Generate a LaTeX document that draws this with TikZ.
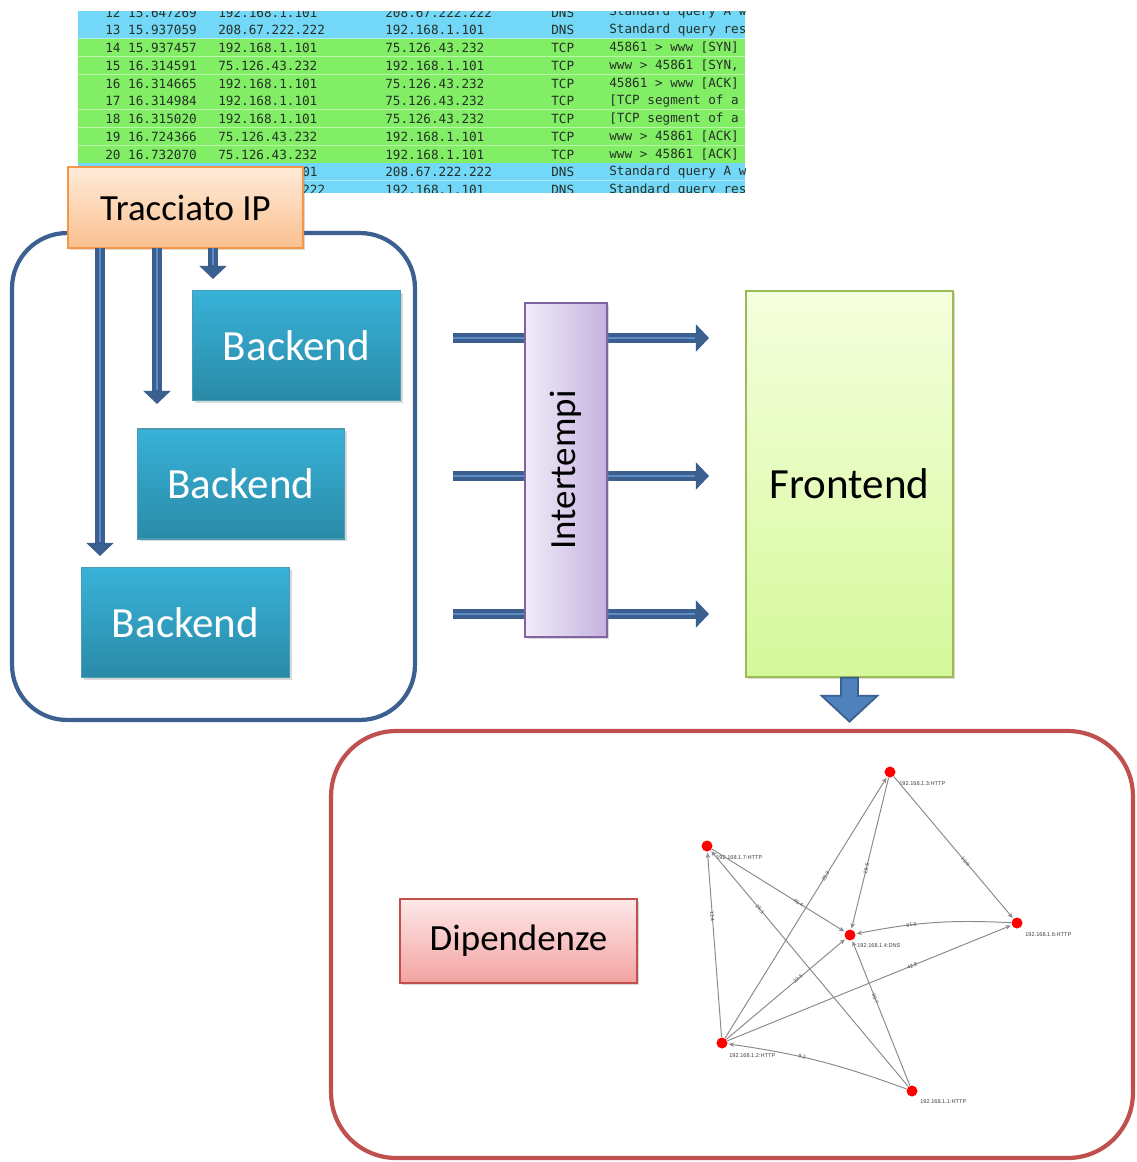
\documentclass[tikz,border=0pt]{standalone}
\usepackage{fontspec}
\setmainfont{Carlito}
\newfontfamily\monofont{DejaVu Sans Mono}
\newfontfamily\graphfont{Liberation Sans}
\usetikzlibrary{arrows.meta,shadows}

\definecolor{dnsblue}{HTML}{73D7F7}
\definecolor{tcpgreen}{HTML}{82EE66}
\definecolor{rowtext}{HTML}{263026}
\definecolor{arrdark}{HTML}{3B5F8F}
\definecolor{arrlight}{HTML}{5F8CC4}
\definecolor{arrfill}{HTML}{4F81BD}
\definecolor{frameblue}{HTML}{3C6190}
\definecolor{framered}{HTML}{C0504D}
\definecolor{betop}{HTML}{38B2D8}
\definecolor{bebot}{HTML}{2A8AA7}
\definecolor{trtop}{HTML}{FFEBD9}
\definecolor{trbot}{HTML}{FAC08F}
\definecolor{tredge}{HTML}{F79646}
\definecolor{inleft}{HTML}{F0ECF8}
\definecolor{inright}{HTML}{C6B2DF}
\definecolor{inedge}{HTML}{8064A2}
\definecolor{frtop}{HTML}{F6FFDE}
\definecolor{frbot}{HTML}{D5F89A}
\definecolor{fredge}{HTML}{9BBB59}
\definecolor{detop}{HTML}{FDE8E8}
\definecolor{debot}{HTML}{F2A3A1}
\definecolor{gedgecol}{HTML}{8A8A8A}

\begin{document}
\begin{tikzpicture}[x=0.02cm,y=-0.02cm,
  rowtxt/.style={anchor=west, inner sep=0pt, text=rowtext, font=\monofont\fontsize{7.2}{8}\selectfont},
  box/.style={inner sep=0pt, line width=0.8pt,
    drop shadow={shadow xshift=1.3pt, shadow yshift=-1.3pt, opacity=.3}},
  backend/.style={box, draw=bebot!85!white, top color=betop, bottom color=bebot,
    minimum width=4.15cm, minimum height=2.2cm, text=white,
    font=\fontsize{24.5}{28}\selectfont},
  tracebox/.style={box, draw=tredge, top color=trtop, bottom color=trbot,
    minimum width=4.7cm, minimum height=1.62cm, font=\fontsize{21}{24}\selectfont},
  interbox/.style={box, draw=inedge, left color=inleft, right color=inright,
    minimum width=1.64cm, minimum height=6.68cm, font=\fontsize{21}{24}\selectfont},
  frontbox/.style={box, draw=fredge, top color=frtop, bottom color=frbot,
    minimum width=4.14cm, minimum height=7.72cm, font=\fontsize{24.5}{28}\selectfont},
  depbox/.style={box, draw=framered, top color=detop, bottom color=debot,
    minimum width=4.74cm, minimum height=1.68cm, font=\fontsize{21}{24}\selectfont},
  frame/.style={draw, line width=2.4pt, inner sep=0pt},
  barrow/.style={draw=arrdark, line width=5.7pt, -{Triangle[width=15.3pt,length=7.5pt]}},
  bstripe/.style={draw=arrlight, line width=1.6pt},
  bigarrow/.style={fill=arrfill, draw=arrdark, line width=1pt, line join=miter},
  gnode/.style={circle, fill=red, inner sep=0pt, minimum size=0.22cm},
  glabel/.style={anchor=west, inner sep=0pt, text=black!75, font=\graphfont\fontsize{3.2}{4}\selectfont},
  gedge/.style={draw=gedgecol, line width=0.55pt, -{Stealth[length=3pt,width=2.6pt]}, shorten >=0.5pt},
  elab/.style={sloped, inner sep=0.6pt, text=black!70, font=\graphfont\fontsize{3}{3.5}\selectfont}
]
\useasboundingbox (0,0) rectangle (1136,1162);

% ---------- packet capture listing ----------
\begin{scope}
  \clip (78,12) rectangle (745,193);
  \foreach \rn/\rs/\rd/\rp/\ri/\rc [count=\k from 0] in {
    {12 15.647269}/192.168.1.101/208.67.222.222/DNS/{Standard query A www}/dnsblue,
    {13 15.937059}/208.67.222.222/192.168.1.101/DNS/{Standard query response}/dnsblue,
    {14 15.937457}/192.168.1.101/75.126.43.232/TCP/{45861 > www [SYN]}/tcpgreen,
    {15 16.314591}/75.126.43.232/192.168.1.101/TCP/{www > 45861 [SYN, ACK]}/tcpgreen,
    {16 16.314665}/192.168.1.101/75.126.43.232/TCP/{45861 > www [ACK]}/tcpgreen,
    {17 16.314984}/192.168.1.101/75.126.43.232/TCP/{[TCP segment of a reassembled PDU]}/tcpgreen,
    {18 16.315020}/192.168.1.101/75.126.43.232/TCP/{[TCP segment of a reassembled PDU]}/tcpgreen,
    {19 16.724366}/75.126.43.232/192.168.1.101/TCP/{www > 45861 [ACK]}/tcpgreen,
    {20 16.732070}/75.126.43.232/192.168.1.101/TCP/{www > 45861 [ACK]}/tcpgreen,
    {}/{}/208.67.222.222/DNS/{Standard query A www}/dnsblue,
    {}/{}/192.168.1.101/DNS/{Standard query response}/dnsblue}
  {
    \pgfmathsetmacro\yc{12.5+\k*17.75}
    \fill[\rc] (78,\yc-8.9) rectangle (745,\yc+8.9);
    \draw[white, opacity=.45, line width=0.8pt] (78,\yc+8.9) -- (745,\yc+8.9);
    \ifnum\k<9
      \node[rowtxt] (row\k-no) at (105,\yc) {\rn};
      \node[rowtxt] (row\k-src) at (218,\yc) {\rs};
    \fi
    \node[rowtxt] (row\k-dst) at (385,\yc) {\rd};
    \node[rowtxt] (row\k-pr) at (551,\yc) {\rp};
    \node[rowtxt] (row\k-inf) at (609,\yc) {\ri};
  }
  % source addresses of the last two rows, left part hidden under the label box
  \node[rowtxt] (row9-src) at (302,12.5+9*17.75) {01};
  \node[rowtxt] (row10-src) at (302,12.5+10*17.75) {222};
\end{scope}

% ---------- backend group ----------
\node[frame, draw=frameblue, rounded corners=1.1cm, minimum width=8.06cm, minimum height=9.74cm]
  (group) at (213.5,476.5) {};

\node[tracebox] (trace) at (185.5,207.5) {Tracciato IP};

\coordinate (a1s) at (100,248); \coordinate (a1e) at (100,556); \coordinate (a1m) at (100,542);
\coordinate (a2s) at (157,248); \coordinate (a2e) at (157,404); \coordinate (a2m) at (157,390);
\coordinate (a3s) at (213,248); \coordinate (a3e) at (213,279); \coordinate (a3m) at (213,265);
\foreach \a in {1,2,3} {
  \draw[barrow] (a\a s) -- (a\a e);
  \draw[bstripe] (a\a s) -- (a\a m);
}

\node[backend] (be1) at (296.5,345.5) {Backend};
\node[backend] (be2) at (241,484) {Backend};
\node[backend] (be3) at (185.5,622.5) {Backend};

% ---------- inter-arrival stage ----------
\foreach \i/\yy in {1/338,2/476,3/614} {
  \coordinate (h\i s) at (453,\yy);
  \coordinate (h\i e) at (709,\yy);
  \coordinate (h\i m) at (695,\yy);
  \draw[barrow] (h\i s) -- (h\i e);
  \draw[bstripe] (h\i s) -- (h\i m);
}

\node[interbox] (inter) at (566,470) {\rotatebox{90}{Intertempi}};

\node[frontbox] (front) at (849.5,484) {Frontend};

% ---------- dependency result ----------
\node[frame, draw=framered, rounded corners=1.3cm, minimum width=16.04cm, minimum height=8.54cm]
  (result) at (732,944.5) {};

\draw[bigarrow] (front.south) ++(-8.5,0) -- ++(0,18) -- ++(-19.5,0) -- ++(28,26)
  -- ++(28,-26) -- ++(-19.5,0) -- ++(0,-18) -- cycle;

\node[depbox] (dep) at (518.5,941) {Dipendenze};

% dependency graph
\node[gnode] (g1) at (890,772) {};
\node[gnode] (g2) at (707,846) {};
\node[gnode] (g3) at (850,935) {};
\node[gnode] (g4) at (1017,923) {};
\node[gnode] (g5) at (722,1043) {};
\node[gnode] (g6) at (912,1091) {};

\node[glabel] (gl1) at (899,784) {192.168.1.3:HTTP};
\node[glabel] (gl2) at (716,858) {192.168.1.7:HTTP};
\node[glabel] (gl3) at (857,946) {192.168.1.4:DNS};
\node[glabel] (gl4) at (1025,935) {192.168.1.6:HTTP};
\node[glabel] (gl5) at (729,1056) {192.168.1.2:HTTP};
\node[glabel] (gl6) at (920,1102) {192.168.1.1:HTTP};

\draw[gedge] (g5) -- node[elab, pos=.62] {23.3} (g1);
\draw[gedge] (g1) -- node[elab, pos=.6] {19.5} (g3);
\draw[gedge] (g1) -- node[elab, pos=.6] {13.9} (g4);
\draw[gedge] (g2) -- node[elab, pos=.65] {40.4} (g3);
\draw[gedge] (g6) -- node[elab, pos=.75] {15.1} (g2);
\draw[gedge] (g5) -- node[elab, pos=.65] {11.4} (g2);
\draw[gedge] (g5) -- node[elab, pos=.6] {22.6} (g3);
\draw[gedge] (g5) -- node[elab, pos=.65] {42.8} (g4);
\draw[gedge] (g6) -- node[elab, pos=.6] {30.7} (g3);
\draw[gedge] (g4) to[bend right=7] node[elab, pos=.65] {61.9} (g3);
\draw[gedge] (g6) to[bend right=6] node[elab, pos=.6] {9.2} (g5);

\end{tikzpicture}
\end{document}
